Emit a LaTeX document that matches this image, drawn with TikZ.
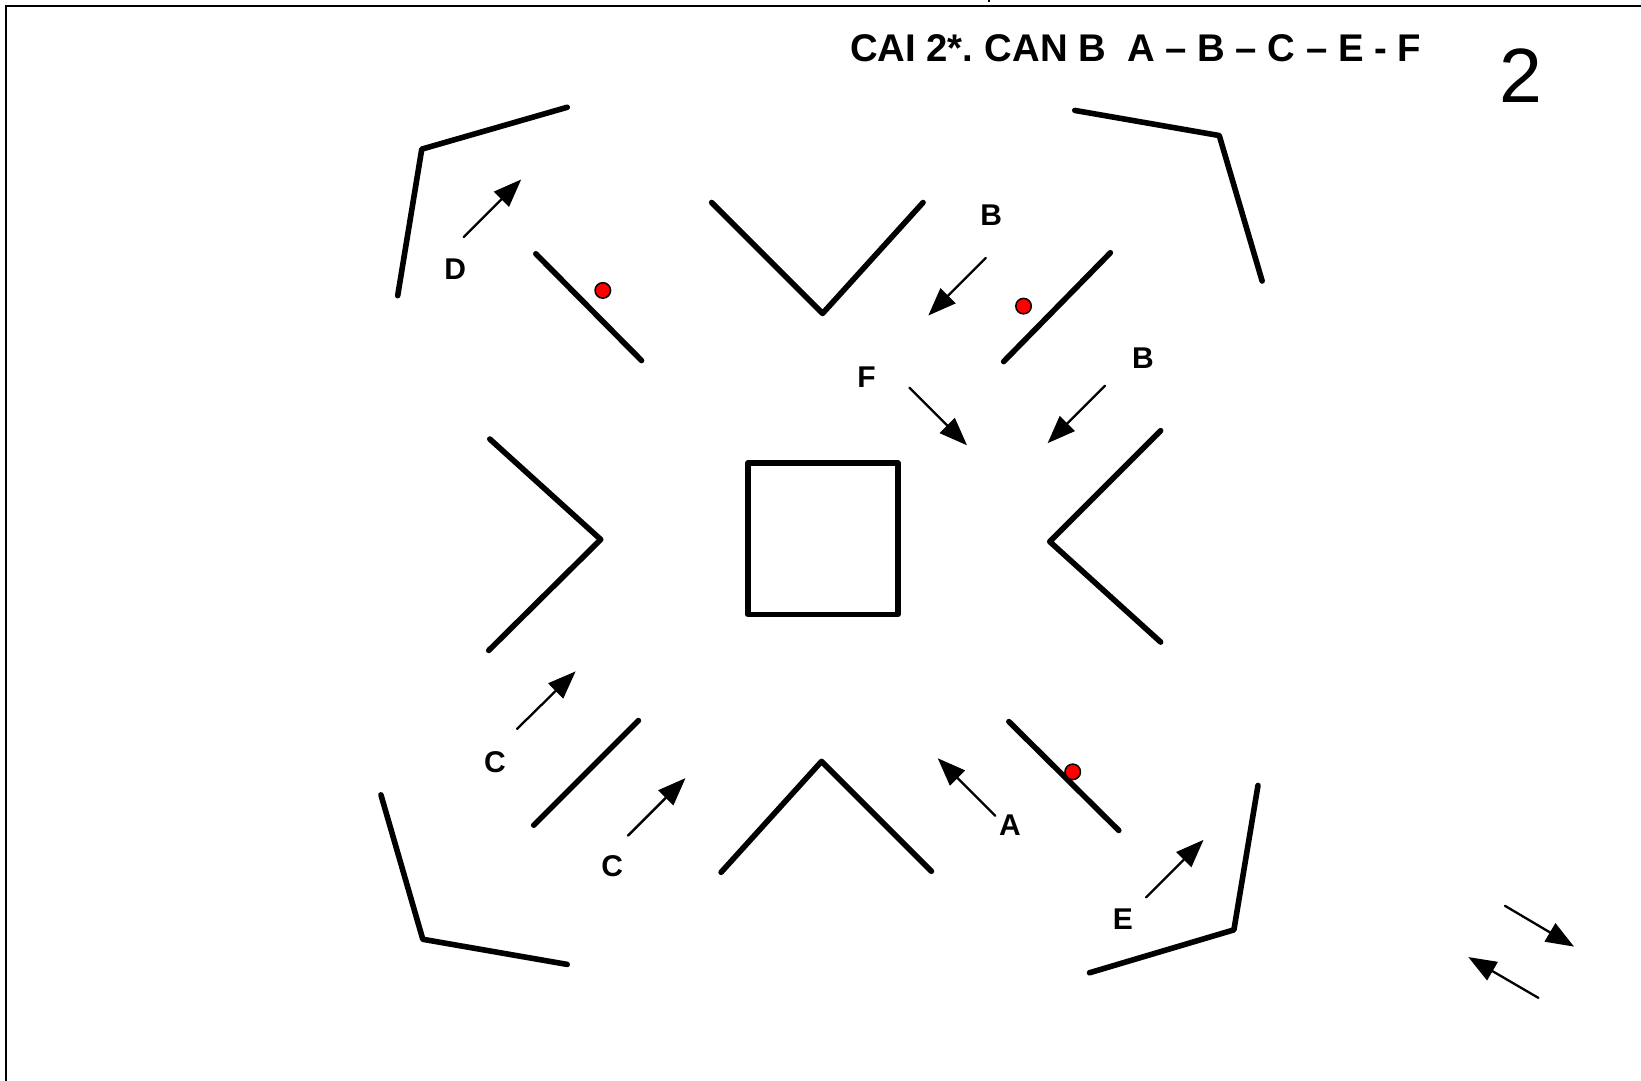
\documentclass[tikz,border=0pt]{standalone}
\usepackage{fontspec}
\setmainfont{Liberation Sans}
\usetikzlibrary{arrows.meta}
\tikzset{
  heavy/.style={line width=5.6pt,line cap=round,line join=round,black},
  pointer/.style={line width=2.3pt,line cap=round,black,-{Triangle[length=28pt,width=21pt,sep=0pt]}},
  letter/.style={font=\fontsize{30}{32}\selectfont\bfseries,inner sep=0pt,anchor=center},
  reddot/.style={circle,draw=black,fill=red,line width=1.5pt,minimum size=15.5pt,inner sep=0pt},
}
\begin{document}
\begin{tikzpicture}[x=1.04656pt,y=-1.04656pt]
\useasboundingbox (0,-0.5) rectangle (1568,1031.5);
\fill[white] (0,-0.5) rectangle (1568,1031.5);
% frame
\draw[line width=2.2pt,black] (5.7,1032) -- (5.7,5.5) -- (1568,5.5);
\fill[black] (943.6,-0.5) rectangle (945.6,1.6);
% title
\node[inner sep=0pt,anchor=west] (title) at (812,45.5) {\scalebox{0.993}[1]{\fontsize{38.6}{40}\selectfont\bfseries CAI 2*.\hspace{-3pt} CAN B\ \ A – B – C – E - F}};
\node[inner sep=0pt] (page) at (1453,72) {\fontsize{77}{80}\selectfont 2};
% corners
\draw[heavy] (380,282) -- (403,142) -- (542,102);
\draw[heavy] (1027,105) -- (1165,129) -- (1206,268);
\draw[heavy] (364,759) -- (404,897) -- (542,921);
\draw[heavy] (1202,750) -- (1179,888) -- (1041,929);
% chevrons
\draw[heavy] (680,193) -- (786,299) -- (882,193);
\draw[heavy] (689,833) -- (785,727) -- (890,832);
\draw[heavy] (468,419) -- (574,515) -- (467,621);
\draw[heavy] (1109,411) -- (1003,517) -- (1109,613);
% centre square
\draw[heavy] (714.5,442) rectangle (858,586.5);
% diagonals
\draw[heavy] (512,242) -- (613,344);
\draw[heavy] (1061,241) -- (959,345);
\draw[heavy] (610,688) -- (510,788);
\draw[heavy] (964,689) -- (1069,793);
% dots
\node[reddot] (dotA) at (576,277) {};
\node[reddot] (dotB) at (978,292) {};
\node[reddot] (dotC) at (1025,737) {};
% arrows
\draw[pointer] (443,226) -- (498,171);
\draw[pointer] (942,246) -- (887,301);
\draw[pointer] (1056,368) -- (1001,423);
\draw[pointer] (869,370) -- (924,425);
\draw[pointer] (494,696) -- (550,641);
\draw[pointer] (600,798) -- (655,743);
\draw[pointer] (951,779) -- (896,724);
\draw[pointer] (1095,857) -- (1150,802);
\draw[pointer] (1438,865) -- (1504,904);
\draw[pointer] (1470,953) -- (1403,914);
% labels
\node[letter] (lD) at (435,257) {D};
\node[letter] (lB1) at (947,205) {B};
\node[letter] (lB2) at (1092,342) {B};
\node[letter] (lF) at (828,360) {F};
\node[letter] (lC1) at (473,728) {C};
\node[letter] (lC2) at (585,827) {C};
\node[letter] (lA) at (965,788) {A};
\node[letter] (lE) at (1073,878) {E};
\end{tikzpicture}
\end{document}
